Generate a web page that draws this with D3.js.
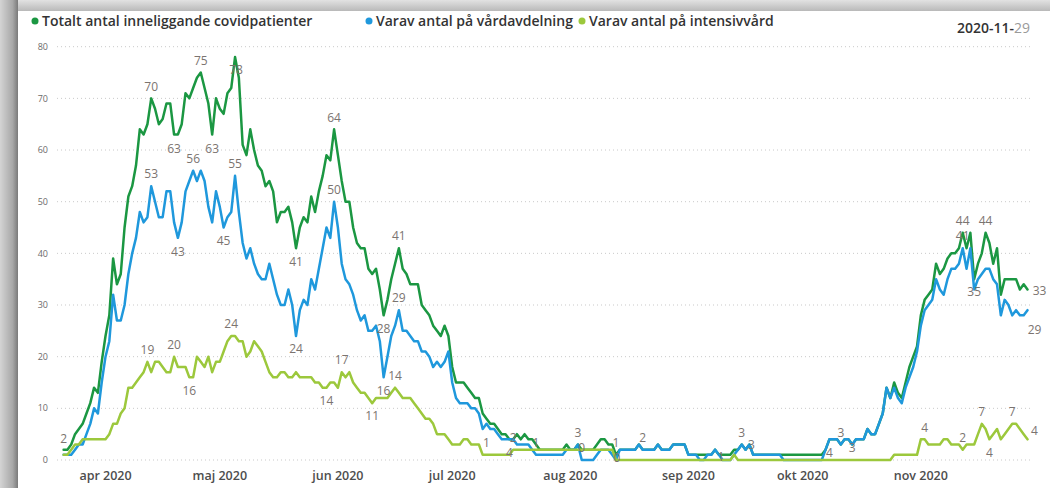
<!DOCTYPE html>
<html>
<head>
<meta charset="utf-8">
<script src="https://cdn.jsdelivr.net/npm/d3@7"></script>
<style>
  html, body { margin: 0; padding: 0; background: #d6d6d6; }
  #chart { width: 1050px; height: 488px; overflow: hidden; }
  text { font-family: "Open Sans", Roboto, "Liberation Sans", sans-serif; }
</style>
</head>
<body>
<div id="chart"></div>
<script>
// 1. DATA (one value per day, starting 2020-03-21)
const startDay = "2020-03-21";

const totalt = [
  2,2,3,5,6,7,9,11,14,13,
  19,24,28,39,34,36,45,51,53,57,
  64,63,65,70,68,65,66,69,69,63,
  63,65,71,70,72,74,75,72,69,63,
  70,68,67,71,72,78,74,61,59,64,
  60,57,56,53,54,52,46,48,48,49,
  46,41,45,47,46,51,48,52,55,59,
  58,64,59,54,50,50,45,42,41,41,
  37,36,37,33,28,31,35,38,41,37,
  36,34,34,34,30,29,28,26,25,24,
  26,24,18,15,15,15,14,13,12,12,
  9,8,7,7,6,5,5,4,4,5,
  4,5,4,4,3,2,2,2,2,2,
  2,2,3,2,2,3,2,2,2,2,
  3,4,4,3,3,1,2,2,2,2,
  2,3,2,2,2,2,3,2,2,2,
  3,3,3,3,1,1,1,1,1,1,
  1,2,1,1,1,1,2,2,3,2,
  3,1,1,1,1,1,1,1,1,1,
  1,1,1,1,1,1,1,1,1,1,
  2,4,4,4,3,4,4,3,4,4,
  4,6,5,5,7,9,14,12,15,13,
  12,15,18,20,22,28,31,32,33,38,
  36,37,39,40,40,41,44,41,44,35,
  38,40,44,42,38,41,32,35,35,35,
  35,33,34,33
];

const vardavd = [
  1,1,1,2,3,3,5,7,10,9,
  15,20,23,32,27,27,30,36,40,43,
  48,46,47,53,50,47,47,52,52,46,
  43,46,52,54,56,54,56,54,49,46,
  52,49,45,47,48,55,48,42,39,41,
  38,36,35,35,38,35,32,30,30,33,
  30,24,29,31,30,35,33,37,41,45,
  43,50,45,38,35,34,32,29,27,28,
  25,25,26,23,16,20,24,26,29,25,
  25,24,23,23,21,21,20,18,19,18,
  19,21,15,12,11,11,11,10,10,9,
  6,7,6,6,5,4,4,4,4,3,
  3,3,3,2,1,1,1,1,1,1,
  1,1,2,2,2,3,0,0,0,0,
  1,2,2,2,1,0,2,2,2,2,
  2,3,2,2,2,2,3,2,2,2,
  3,3,3,3,1,1,1,0,0,1,
  1,2,1,0,0,0,1,2,3,2,
  3,1,1,1,1,1,1,1,1,0,
  0,0,0,0,0,0,0,0,0,0,
  2,4,4,4,3,4,4,3,4,4,
  4,6,5,5,7,9,14,12,14,12,
  11,14,16,18,21,26,29,30,31,35,
  33,32,35,37,37,38,41,37,41,33,
  35,36,37,37,35,34,28,31,30,28,
  29,28,28,29
];

const iva = [
  1,1,2,3,3,4,4,4,4,4,
  4,4,5,7,7,9,10,14,14,15,
  16,17,19,17,19,19,18,17,17,20,
  18,18,18,16,16,20,19,18,20,17,
  19,19,21,23,24,24,23,23,20,21,
  23,22,21,19,17,16,16,17,17,16,
  16,17,16,16,16,16,15,15,14,14,
  15,15,14,17,16,17,15,14,13,13,
  12,11,12,12,12,12,13,14,13,12,
  12,12,11,10,9,8,8,7,5,5,
  5,4,3,3,3,4,4,3,3,3,
  1,1,1,1,1,1,1,1,2,2,
  2,2,2,2,2,2,2,2,2,2,
  2,2,2,2,2,2,2,2,2,2,
  2,2,2,2,2,0,0,0,0,0,
  0,0,0,0,0,0,0,0,0,0,
  0,0,0,0,0,0,0,0,0,0,
  0,0,0,0,0,0,1,0,0,0,
  0,0,0,0,0,0,0,0,0,0,
  0,0,0,0,0,0,0,0,0,0,
  0,0,0,0,0,0,0,0,0,0,
  0,0,0,0,0,0,0,0,1,1,
  1,1,1,1,1,4,4,3,3,3,
  3,4,4,3,3,3,2,3,3,3,
  5,7,6,4,5,6,4,5,6,7,
  7,6,5,4
];

const seriesNames = [
  "Totalt antal inneliggande covidpatienter",
  "Varav antal på vårdavdelning",
  "Varav antal på intensivvård"
];
const seriesKeys = ["totalt", "vardavd", "iva"];
const yTicks = [0, 10, 20, 30, 40, 50, 60, 70, 80];
const reportDate = ["2020-11-", "29"];

// data labels: [series, day index, dx, dy]
const pointLabels = [
  ["totalt", 0, 0, -11], ["totalt", 23, 0, -12], ["totalt", 29, 0, 14],
  ["totalt", 36, 0, -12], ["totalt", 39, 0, 14], ["totalt", 45, 1, 13],
  ["totalt", 61, 0, 14], ["totalt", 71, 0, -12], ["totalt", 84, 0, 13],
  ["totalt", 88, 0, -12], ["totalt", 117, 0, 13], ["totalt", 135, 0, -12],
  ["totalt", 145, 0, -12], ["totalt", 236, 0, -12], ["totalt", 239, 0, 13],
  ["totalt", 242, 0, -12], ["totalt", 253, 12, 1],
  ["vardavd", 23, 0, -12], ["vardavd", 30, 0, 14], ["vardavd", 34, 0, -12],
  ["vardavd", 42, 0, 13], ["vardavd", 45, 0, -12], ["vardavd", 61, 0, 13],
  ["vardavd", 71, 0, -12], ["vardavd", 84, 0, 13], ["vardavd", 88, 0, -12],
  ["vardavd", 124, 0, -12], ["vardavd", 136, 0, -12], ["vardavd", 145, 1, -2],
  ["vardavd", 152, 0, -12], ["vardavd", 172, 2, 2], ["vardavd", 178, 0, -12],
  ["vardavd", 180, 2, 0], ["vardavd", 201, 0, 13], ["vardavd", 204, 0, -12],
  ["vardavd", 207, 0, 3], ["vardavd", 236, 0, -12], ["vardavd", 253, 7, 20],
  ["iva", 22, 0, -12], ["iva", 29, 0, -12], ["iva", 33, 0, 13],
  ["iva", 44, 0, -12], ["iva", 69, 0, 13], ["iva", 73, 0, -12],
  ["iva", 81, 0, 13], ["iva", 87, 0, -12], ["iva", 111, 0, -12],
  ["iva", 118, 0, -12], ["iva", 226, 0, -12], ["iva", 236, 0, -12],
  ["iva", 241, 0, -12], ["iva", 243, 0, 13], ["iva", 249, 0, -12],
  ["iva", 253, 7, -9]
];

document.addEventListener("DOMContentLoaded", function() {

  const values = { totalt: totalt, vardavd: vardavd, iva: iva };
  const colors = { totalt: "#1b9742", vardavd: "#1f98dc", iva: "#9cc83c" };

  // 2. SETUP
  const width = 1050, height = 488;
  const first = d3.timeParse("%Y-%m-%d")(startDay);
  const dates = d3.range(totalt.length).map(i => d3.timeDay.offset(first, i));

  const sv = d3.timeFormatLocale({
    dateTime: "%A %e %B %Y %X", date: "%Y-%m-%d", time: "%H:%M:%S",
    periods: ["fm", "em"],
    days: ["söndag","måndag","tisdag","onsdag","torsdag","fredag","lördag"],
    shortDays: ["sön","mån","tis","ons","tor","fre","lör"],
    months: ["januari","februari","mars","april","maj","juni","juli","augusti","september","oktober","november","december"],
    shortMonths: ["jan","feb","mar","apr","maj","jun","jul","aug","sep","okt","nov","dec"]
  });

  const svg = d3.select("#chart").append("svg")
    .attr("width", width)
    .attr("height", height);

  // panel frame with soft shadow
  const defs = svg.append("defs");
  const lg = defs.append("linearGradient").attr("id", "leftShade");
  lg.append("stop").attr("offset", "0%").attr("stop-color", "#d4d4d4");
  lg.append("stop").attr("offset", "70%").attr("stop-color", "#a8a8a8");
  lg.append("stop").attr("offset", "100%").attr("stop-color", "#7a7a7a");
  const tg = defs.append("linearGradient").attr("id", "topShade")
    .attr("x1", 0).attr("y1", 0).attr("x2", 0).attr("y2", 1);
  tg.append("stop").attr("offset", "0%").attr("stop-color", "#e2e2e2");
  tg.append("stop").attr("offset", "100%").attr("stop-color", "#b9b9b9");

  svg.append("rect").attr("width", width).attr("height", height).attr("fill", "#dedede");
  svg.append("rect").attr("x", 0).attr("y", 0).attr("width", width).attr("height", 11)
    .attr("fill", "url(#topShade)");
  svg.append("rect").attr("x", 0).attr("y", 0).attr("width", 18).attr("height", height)
    .attr("fill", "url(#leftShade)");
  svg.append("rect").attr("x", 18).attr("y", 11).attr("width", width - 18).attr("height", height - 11)
    .attr("fill", "#fff");

  // 3. SCALES
  const x = d3.scaleTime()
    .domain([dates[0], dates[dates.length - 1]])
    .range([63.6, 1027.5]);
  const y = d3.scaleLinear().domain([0, 80]).range([460, 46.7]);

  // gridlines + y labels
  const grid = svg.append("g");
  grid.selectAll("line").data(yTicks).join("line")
    .attr("x1", 57).attr("x2", 1032)
    .attr("y1", d => y(d)).attr("y2", d => y(d))
    .attr("stroke", "#c9c9c9").attr("stroke-width", 1)
    .attr("stroke-dasharray", "1,3");
  grid.selectAll("text").data(yTicks).join("text")
    .attr("x", 48).attr("y", d => y(d)).attr("dy", "0.35em")
    .attr("text-anchor", "end")
    .attr("font-size", 9).attr("fill", "#6b6b6b")
    .text(d => d);

  // x axis month labels
  const months = d3.timeMonth.range(d3.timeMonth.ceil(dates[0]), dates[dates.length - 1]);
  svg.append("g").selectAll("text").data(months).join("text")
    .attr("x", d => x(d)).attr("y", 480)
    .attr("text-anchor", "middle")
    .attr("font-size", 12.5).attr("font-weight", 600).attr("fill", "#4d4d4d")
    .text(sv.format("%b %Y"));

  // 4. LINES
  const line = d3.line()
    .x((d, i) => x(dates[i]))
    .y(d => y(d));

  seriesKeys.forEach(k => {
    svg.append("path")
      .datum(values[k])
      .attr("fill", "none")
      .attr("stroke", colors[k])
      .attr("stroke-width", 2.5)
      .attr("stroke-linejoin", "round")
      .attr("stroke-linecap", "round")
      .attr("d", line);
  });

  // data labels
  svg.append("g").selectAll("text").data(pointLabels).join("text")
    .attr("x", d => x(dates[d[1]]) + d[2])
    .attr("y", d => y(values[d[0]][d[1]]) + d[3])
    .attr("dy", "0.35em")
    .attr("text-anchor", "middle")
    .attr("font-size", 12).attr("fill", "#7b7470")
    .text(d => values[d[0]][d[1]]);

  // 5. LEGEND
  const legendX = [35, 369, 582];
  const legend = svg.append("g").selectAll("g").data(seriesKeys).join("g")
    .attr("transform", (d, i) => `translate(${legendX[i]},21)`);
  legend.append("circle").attr("r", 3.5).attr("fill", d => colors[d]);
  legend.append("text")
    .attr("x", 7).attr("dy", "0.35em")
    .attr("font-size", 14).attr("font-weight", 600).attr("fill", "#333")
    .text((d, i) => seriesNames[i]);

  const dateText = svg.append("text")
    .attr("x", 1030).attr("y", 33)
    .attr("text-anchor", "end")
    .attr("font-size", 14).attr("font-weight", 600).attr("fill", "#333");
  dateText.append("tspan").text(reportDate[0]);
  dateText.append("tspan").attr("fill", "#9a9a9a").attr("font-weight", 400).text(reportDate[1]);
});
</script>
</body>
</html>
